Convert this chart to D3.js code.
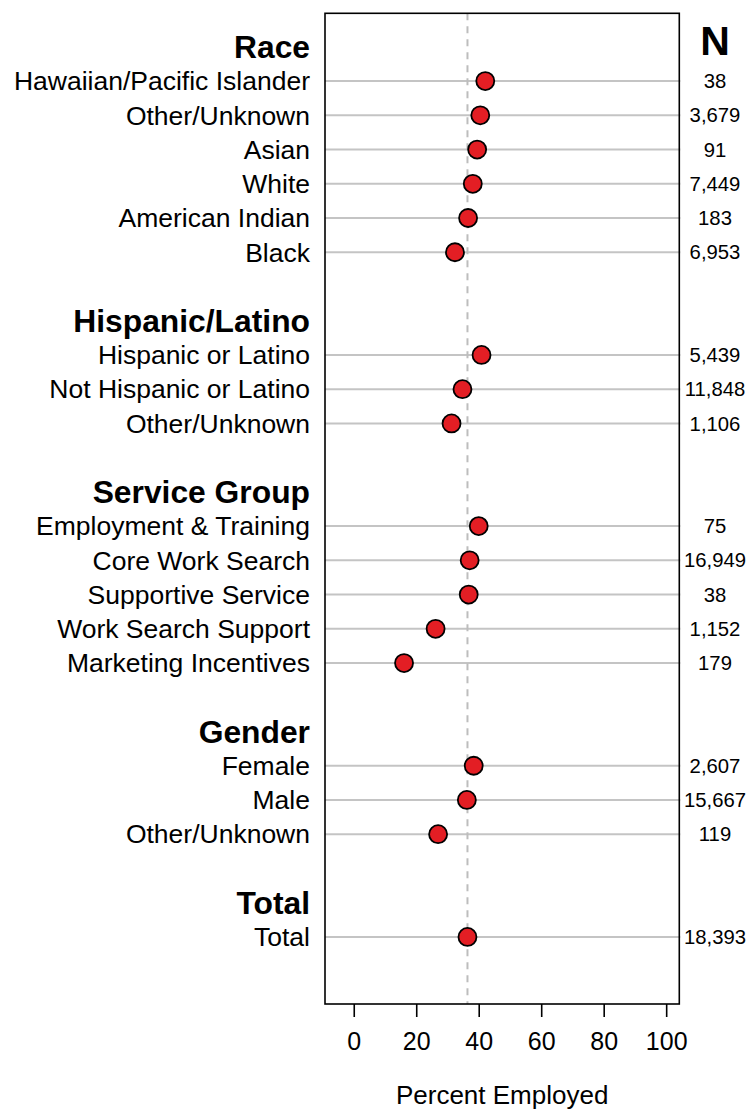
<!DOCTYPE html>
<html><head><meta charset="utf-8">
<script src="https://cdn.jsdelivr.net/npm/d3@7"></script>
<style>body{margin:0;background:#fff;} svg{display:block;font-family:"Liberation Sans",Arial,sans-serif;}</style>
</head><body><svg id="c" width="755" height="1109"></svg>
<script>
const groupNames = ["Race","Hispanic/Latino","Service Group","Gender","Total"];
const groupSizes = [6,3,5,3,1];
const labels = ["Hawaiian/Pacific Islander","Other/Unknown","Asian","White","American Indian","Black",
  "Hispanic or Latino","Not Hispanic or Latino","Other/Unknown",
  "Employment & Training","Core Work Search","Supportive Service","Work Search Support","Marketing Incentives",
  "Female","Male","Other/Unknown",
  "Total"];
const values = [42.1,40.5,39.5,38.1,36.6,32.4, 40.9,34.8,31.3, 40.0,37.1,36.8,26.2,16.1, 38.4,36.2,27.0, 36.4];
const counts = ["38","3,679","91","7,449","183","6,953","5,439","11,848","1,106","75","16,949","38","1,152","179","2,607","15,667","119","18,393"];
const refValue = 36.4;
const xTicks = [0,20,40,60,80,100];
const xTitle = "Percent Employed";
const nTitle = "N";

const svg = d3.select("#c");
const L=325, R=679.3, T=13.3, B=1004;
const x = d3.scaleLinear().domain([-9.2,104.2]).range([L,R]);
const y = d3.scaleLinear().domain([-0.98,27.96]).range([T,B]);

const headers=[]; const rows=[];
let idx=0, k=0;
groupNames.forEach((g,gi)=>{
  headers.push({name:g,i:idx}); idx++;
  for(let j=0;j<groupSizes[gi];j++){rows.push({label:labels[k],v:values[k],n:counts[k],i:idx}); idx++; k++;}
  idx++;
});

svg.append("g").selectAll("line").data(rows).join("line")
  .attr("x1",L).attr("x2",R+1).attr("y1",d=>y(d.i)).attr("y2",d=>y(d.i))
  .attr("stroke","#c4c4c4").attr("stroke-width",2);
svg.append("line").attr("x1",x(refValue)).attr("x2",x(refValue)).attr("y1",T).attr("y2",B)
  .attr("stroke","#bdbdbd").attr("stroke-width",2).attr("stroke-dasharray","7,6");
svg.append("g").selectAll("circle").data(rows).join("circle")
  .attr("cx",d=>x(d.v)).attr("cy",d=>y(d.i)).attr("r",9)
  .attr("fill","#e31e24").attr("stroke","#000").attr("stroke-width",1.8);
svg.append("rect").attr("x",L).attr("y",T).attr("width",R-L).attr("height",B-T)
  .attr("fill","none").attr("stroke","#000").attr("stroke-width",1.6);
const ax = svg.append("g").attr("transform",`translate(0,${B})`)
  .call(d3.axisBottom(x).tickValues(xTicks).tickSize(13).tickPadding(15));
ax.select(".domain").remove();
ax.selectAll(".tick line").attr("stroke","#000").attr("stroke-width",1.6);
ax.selectAll(".tick text").attr("font-size",25).attr("fill","#000").attr("font-family","Liberation Sans, Arial, sans-serif");
svg.append("text").attr("x",(L+R)/2).attr("y",1104).attr("text-anchor","middle").attr("font-size",26).text(xTitle);
svg.append("g").selectAll("text").data(rows).join("text")
  .attr("x",310).attr("y",d=>y(d.i)).attr("dy","0.35em").attr("text-anchor","end")
  .attr("font-size",26.5).text(d=>d.label);
svg.append("g").selectAll("text").data(headers).join("text")
  .attr("x",310).attr("y",d=>y(d.i)).attr("dy","0.36em").attr("text-anchor","end")
  .attr("font-size",31.8).attr("font-weight","bold").text(d=>d.name);
svg.append("text").attr("x",715).attr("y",y(-0.2)).attr("dy","0.36em").attr("text-anchor","middle")
  .attr("font-size",41).attr("font-weight","bold").text(nTitle);
svg.append("g").selectAll("text").data(rows).join("text")
  .attr("x",715).attr("y",d=>y(d.i)).attr("dy","0.35em").attr("text-anchor","middle")
  .attr("font-size",20.3).text(d=>d.n);
</script></body></html>
